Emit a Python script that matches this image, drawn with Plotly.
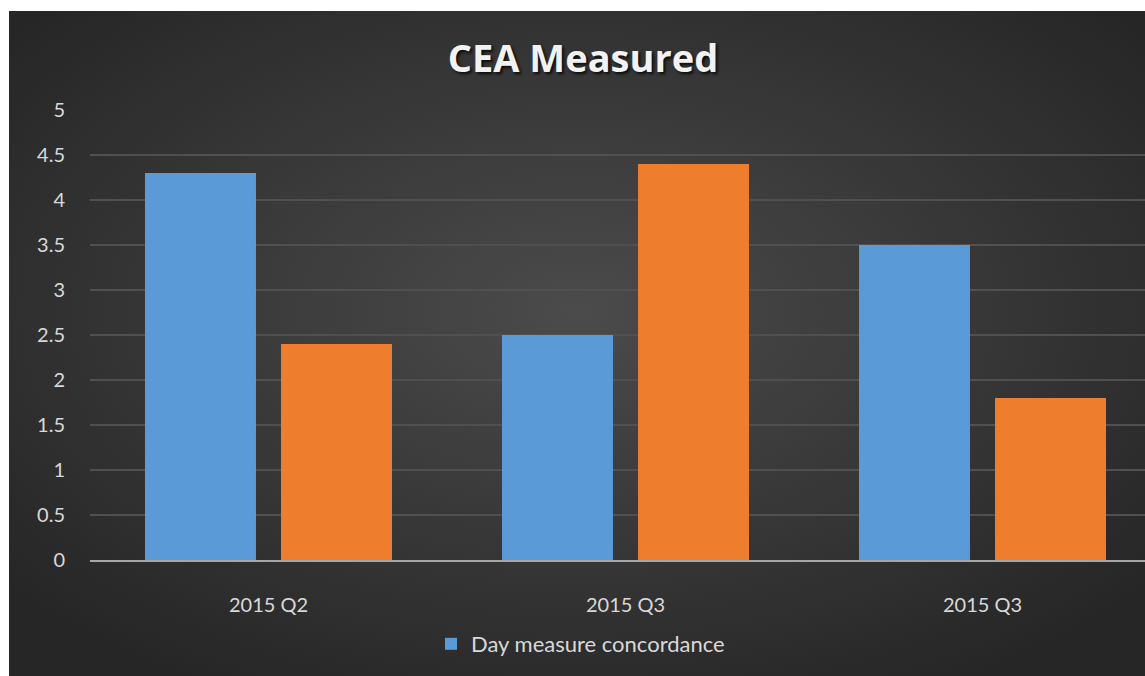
import base64
import plotly.graph_objects as go

categories = ["2015 Q2", "2015 Q3", "2015 Q3"]
day_values = [4.3, 2.5, 3.5]
other_values = [2.4, 4.4, 1.8]
y_ticks = [0, 0.5, 1, 1.5, 2, 2.5, 3, 3.5, 4, 4.5, 5]
y_tick_labels = ["0", "0.5", "1", "1.5", "2", "2.5", "3", "3.5", "4", "4.5", "5"]

W, H = 1145, 676
ML, MR, MT, MB = 90, 0, 110, 116
PW, PH = W - ML - MR, H - MT - MB

svg = (
    '<svg xmlns="http://www.w3.org/2000/svg" width="1136" height="665" viewBox="0 0 1136 665">'
    '<defs><radialGradient id="g" cx="50%" cy="45%" r="65%">'
    '<stop offset="0%" stop-color="#4b4b4b"/>'
    '<stop offset="100%" stop-color="#262626"/>'
    '</radialGradient></defs>'
    '<rect x="0" y="0" width="1136" height="665" fill="url(#g)"/></svg>'
)
src = "data:image/svg+xml;base64," + base64.b64encode(svg.encode()).decode()

x_pos = list(range(len(categories)))

fig = go.Figure()
fig.add_trace(go.Bar(
    x=x_pos, y=day_values, name="Day measure concordance",
    marker=dict(color="#5a9ad6", line=dict(width=0)),
))
fig.add_trace(go.Bar(
    x=x_pos, y=other_values, name="Series 2", showlegend=False,
    marker=dict(color="#ee7d2e", line=dict(width=0)),
))

def px_x(p):
    return (p - ML) / PW

def px_y(p):
    return (H - MB - p) / PH

fig.update_layout(
    width=W, height=H,
    margin=dict(l=ML, r=MR, t=MT, b=MB, pad=0),
    paper_bgcolor="white",
    plot_bgcolor="rgba(0,0,0,0)",
    barmode="group", bargap=0.238, bargroupgap=0.184,
    images=[dict(
        source=src, xref="paper", yref="paper",
        x=px_x(9), y=px_y(11), sizex=(W - 9) / PW, sizey=(H - 11) / PH,
        xanchor="left", yanchor="top", sizing="stretch", layer="below",
    )],
    title=dict(
        text="<b>CEA Measured</b>", x=583 / W, xanchor="center",
        y=1 - 59 / H, yanchor="middle",
        font=dict(family="Open Sans", size=38, color="#f2f2f2",
                  shadow="2px 2px 3px rgba(0,0,0,0.8)"),
    ),
    font=dict(family="Lato", color="#d9d9d9", size=20),
    xaxis=dict(
        range=[-0.5, -0.5 + PW / 357.0],
        tickmode="array", tickvals=x_pos, ticktext=categories,
        showgrid=False, zeroline=False, showline=True,
        linecolor="#a6a6a6", linewidth=2,
        ticks="", ticklabelstandoff=26,
        tickfont=dict(family="Lato", size=20, color="#d9d9d9"),
        fixedrange=True,
    ),
    yaxis=dict(
        range=[0, 5], tickmode="array", tickvals=y_ticks, ticktext=y_tick_labels,
        showgrid=True, gridcolor="#505050", gridwidth=2,
        zeroline=False, showline=False, ticks="",
        ticklabelstandoff=24,
        tickfont=dict(family="Lato", size=20, color="#d9d9d9"),
        fixedrange=True,
    ),
    legend=dict(
        orientation="h", x=px_x(431), xanchor="left", y=px_y(644), yanchor="middle",
        bgcolor="rgba(0,0,0,0)", font=dict(family="Lato", size=22, color="#d9d9d9"),
    ),
    showlegend=True,
)

fig.write_html(
    "out.html",
    config={"displayModeBar": False},
    post_script="document.body.style.margin='0';document.body.style.overflow='hidden';",
)
